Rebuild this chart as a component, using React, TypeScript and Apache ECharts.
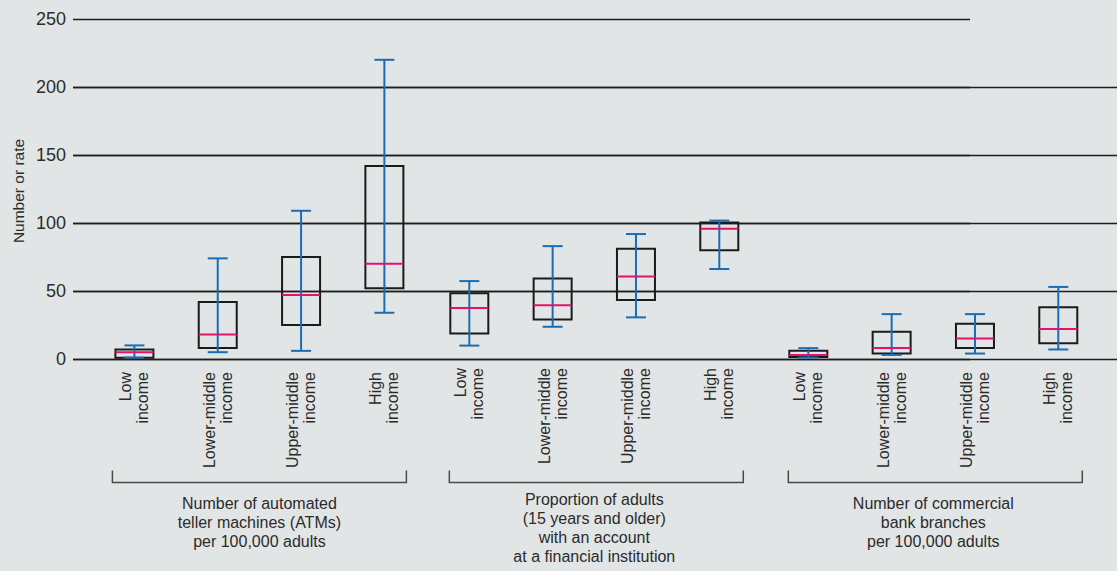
import React, { useEffect, useRef } from "react";
import * as echarts from "echarts";

// Category labels (same four income groups in each panel)
const incomeGroups = ["Low\nincome", "Lower-middle\nincome", "Upper-middle\nincome", "High\nincome"];

// Panel titles
const panelTitles = [
  "Number of automated\nteller machines (ATMs)\nper 100,000 adults",
  "Proportion of adults\n(15 years and older)\nwith an account\nat a financial institution",
  "Number of commercial\nbank branches\nper 100,000 adults",
];

// Box statistics: [min, Q1, median, Q3, max]
const atmStats = [
  [1, 1, 5, 7, 10],
  [5, 8, 18, 42, 74],
  [6, 25, 47, 75, 109],
  [34, 52, 70, 142, 220],
];
const accountStats = [
  [7, 16, 35, 46, 55],
  [21, 26.5, 37, 57, 81],
  [28, 41, 58.5, 79, 90],
  [64, 78, 94, 98.5, 100],
];
const branchStats = [
  [1, 1.5, 3, 6, 8],
  [3, 4, 8, 20, 33],
  [4, 8, 15, 26, 33],
  [7, 11.5, 22, 38, 53],
];

// Value axis ticks
const yMin = 0;
const yMax = 250;
const yStep = 50;
const yAxisTitle = "Number or rate";

const BG = "#e2e5e6";
const TEXT = "#2b2b2b";
const GRIDLINE = "#1e1e1e";
const BOX = "#1b1b1b";
const WHISKER = "#1a6cb3";
const MEDIAN = "#e2136c";
const FONT = "Liberation Sans, Arial, sans-serif";

const panels = [atmStats, accountStats, branchStats];

// Panel layout (pixels)
const TOP = 19;
const BOTTOM = 212;
const panelLeft = [92.75, 427.65, 766.65];
const panelWidth = 333.3;

export default function App() {
  const ref = useRef<HTMLDivElement>(null);

  useEffect(() => {
    document.body.style.margin = "0";
    document.body.style.background = BG;
    if (!ref.current) return;
    const chart = echarts.init(ref.current, null, { renderer: "svg" });

    const grids: any[] = [
      { left: 73, right: 147, top: TOP, bottom: BOTTOM }, // full-range gridlines (to 250)
      { left: 73, right: 0, top: TOP + ((yMax - 200) / (yMax - yMin)) * (571 - TOP - BOTTOM), bottom: BOTTOM }, // gridlines 0..200 to right edge
    ];
    const xAxes: any[] = [
      { type: "value", gridIndex: 0, min: 0, max: 1, show: false },
      { type: "value", gridIndex: 1, min: 0, max: 1, show: false },
    ];
    const yAxes: any[] = [
      {
        type: "value",
        gridIndex: 0,
        min: yMin,
        max: yMax,
        interval: yStep,
        axisLine: { show: false },
        axisTick: { show: false },
        axisLabel: { fontSize: 18, color: TEXT, margin: 7, fontFamily: FONT },
        splitLine: { show: true, lineStyle: { color: GRIDLINE, width: 1.3 } },
      },
      {
        type: "value",
        gridIndex: 1,
        min: yMin,
        max: 200,
        interval: yStep,
        axisLine: { show: false },
        axisTick: { show: false },
        axisLabel: { show: false },
        splitLine: { show: true, lineStyle: { color: GRIDLINE, width: 1.3 } },
      },
    ];
    const series: any[] = [];

    panels.forEach((stats, p) => {
      const gi = 2 + p;
      grids.push({
        left: panelLeft[p],
        width: panelWidth,
        top: TOP,
        bottom: BOTTOM,
      });
      xAxes.push({
        type: "category",
        gridIndex: gi,
        data: incomeGroups,
        boundaryGap: true,
        axisLine: { show: false },
        axisTick: { show: false },
        axisLabel: {
          interval: 0,
          rotate: 90,
          margin: 13,
          fontSize: 16,
          lineHeight: 17,
          color: TEXT,
          fontFamily: FONT,
        },
        name: panelTitles[p],
        nameLocation: "middle",
        nameGap: 135,
        nameTextStyle: {
          fontSize: 16,
          lineHeight: 19,
          color: TEXT,
          fontFamily: FONT,
          align: "center",
          verticalAlign: "top",
        },
      });
      yAxes.push({ type: "value", gridIndex: gi, min: yMin, max: yMax, show: false });
      series.push({
        type: "custom",
        xAxisIndex: gi,
        yAxisIndex: gi,
        data: stats.map((s, i) => [i, ...s]),
        encode: { x: 0, y: [1, 2, 3, 4, 5] },
        renderItem: (params: any, api: any) => {
          const i = api.value(0);
          const lo = api.coord([i, api.value(1)]);
          const q1 = api.coord([i, api.value(2)]);
          const md = api.coord([i, api.value(3)]);
          const q3 = api.coord([i, api.value(4)]);
          const hi = api.coord([i, api.value(5)]);
          const x = lo[0];
          const bw = 19;
          const cw = 10;
          const wStyle = { stroke: WHISKER, lineWidth: 2 };
          return {
            type: "group",
            children: [
              {
                type: "rect",
                shape: { x: x - bw, y: q3[1], width: 2 * bw, height: q1[1] - q3[1] },
                style: { fill: "none", stroke: BOX, lineWidth: 2 },
              },
              { type: "line", shape: { x1: x, y1: hi[1], x2: x, y2: lo[1] }, style: wStyle },
              { type: "line", shape: { x1: x - cw, y1: hi[1], x2: x + cw, y2: hi[1] }, style: wStyle },
              { type: "line", shape: { x1: x - cw, y1: lo[1], x2: x + cw, y2: lo[1] }, style: wStyle },
              {
                type: "line",
                shape: { x1: x - bw, y1: md[1], x2: x + bw, y2: md[1] },
                style: { stroke: MEDIAN, lineWidth: 2 },
              },
            ],
          };
        },
      });
    });

    chart.setOption({
      animation: false,
      backgroundColor: BG,
      textStyle: { fontFamily: FONT },
      grid: grids,
      xAxis: xAxes,
      yAxis: yAxes,
      series,
    });

    // Brackets under each panel's category labels, plus the value-axis title
    const graphics: any[] = [];
    panels.forEach((stats, p) => {
      const gi = 2 + p;
      const first = chart.convertToPixel({ xAxisIndex: gi }, 0) as number;
      const last = chart.convertToPixel({ xAxisIndex: gi }, stats.length - 1) as number;
      const shift = p === 0 ? 0 : 2;
      const a = first - 22 + shift;
      const b = last + 22 + shift;
      graphics.push({
        type: "polyline",
        shape: { points: [[a, 470.5], [a, 482.5], [b, 482.5], [b, 470.5]] },
        style: { stroke: "#4a4a4a", lineWidth: 1.5, fill: "none" },
        silent: true,
      });
    });
    const yTop = chart.convertToPixel({ yAxisIndex: 0 }, yMax) as number;
    const yBot = chart.convertToPixel({ yAxisIndex: 0 }, yMin) as number;
    graphics.push({
      type: "text",
      x: 18,
      y: (yTop + yBot) / 2 + 2,
      rotation: Math.PI / 2,
      style: {
        text: yAxisTitle,
        fontSize: 15.5,
        fontFamily: FONT,
        fill: TEXT,
        align: "center",
        verticalAlign: "middle",
      },
      silent: true,
    });
    chart.setOption({ graphic: graphics });

    return () => chart.dispose();
  }, []);

  return <div ref={ref} style={{ width: 1117, height: 571 }} />;
}
